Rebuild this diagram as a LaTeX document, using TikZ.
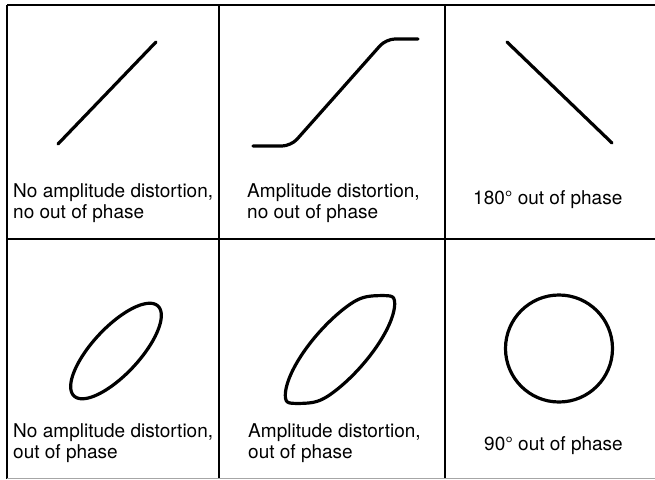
\documentclass[tikz,border=0pt]{standalone}
\usepackage{fontspec}
\setmainfont{TeX Gyre Heros}
\begin{document}
\begin{tikzpicture}[x=1pt,y=-1pt,
  declare function={
    eu(\t)=76*cos(\t)*cos(48)-27*sin(\t)*sin(48);
    ev(\t)=76*cos(\t)*sin(48)+27*sin(\t)*cos(48);
    sp(\z)=ln(1+exp(max(-9,min(9,\z))));
    sc(\v)=\v-sp(0.35*(\v-54.4))/0.35+sp(0.35*(-\v-54.4))/0.35;
  },
  grid/.style={line width=1.1pt,black},
  faint/.style={line width=0.8pt,black!35},
  trace/.style={line width=3.2pt,black,line cap=round,line join=round},
  lbl/.style={inner sep=0pt,anchor=base west,align=left,font=\fontsize{19}{21.5}\selectfont}]
\useasboundingbox (0,0) rectangle (655,479);
% grid
\draw[grid] (7,5) -- (655,5);
\draw[grid] (7,239) -- (655,239);
\draw[grid] (7,5) -- (7,479);
\draw[grid] (219,5) -- (219,479);
\draw[grid] (445,5) -- (445,479);
\draw[faint] (7,478) -- (655,478);
% cell 1
\draw[trace] (58,144) -- (156,42);
\node[lbl] (t1) at (13,218.5) {No amplitude distortion,\\no out of phase};
% cell 2
\draw[trace,rounded corners=9pt] (253,146) -- (291,146) -- (386,39) -- (418,39);
\node[lbl] (t2) at (247,218.5) {Amplitude distortion,\\no out of phase};
% cell 3
\draw[trace] (507,42) -- (612,143);
\node[lbl] (t3) at (473,204) {180° out of phase};
% cell 4
\draw[trace] plot[domain=0:360,samples=181] ({116+61.5*cos(\x)*cos(47)-23.5*sin(\x)*sin(47)},{351-(61.5*cos(\x)*sin(47)+23.5*sin(\x)*cos(47))}) -- cycle;
\node[lbl] (t4) at (13,458.5) {No amplitude distortion,\\out of phase};
% cell 5
\draw[trace] plot[domain=0:360,samples=241] ({340+eu(\x)},{349.5-sc(ev(\x))}) -- cycle;
\node[lbl] (t5) at (248,458.5) {Amplitude distortion,\\out of phase};
% cell 6
\draw[trace] (559,348.5) circle[radius=53.5];
\node[lbl] (t6) at (484,450) {90° out of phase};
\end{tikzpicture}
\end{document}
